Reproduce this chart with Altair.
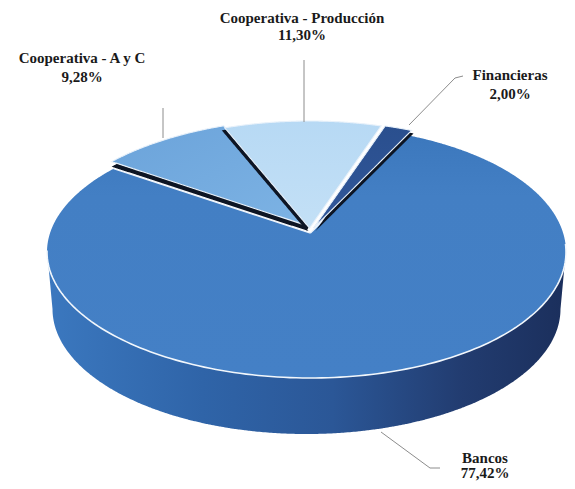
import numpy as np
import pandas as pd
import altair as alt

# ---- values
SLICES = ["Cooperativa - A y C", "Cooperativa - Producción", "Financieras", "Bancos"]
SHARES = [9.28, 11.30, 2.00, 77.42]
LABELS = ["9,28%", "11,30%", "2,00%", "77,42%"]
START_DEG = -55.4          # where the first slice starts, clockwise from the far side

# ---- 3D-look geometry of the disc, in picture units
CX, CY, RX, RY = 306.5, 250.0, 259.5, 126.0
PERSP = 0.15               # the centre of the disc appears this far above the ellipse centre
SKEW = 4.0                 # the view is slightly off-axis: the middle of the disc sits further right
DEPTH_CY, DEPTH_RX, DEPTH_RY = 309.0, 254.0, 125.0
W, H = 559, 473
XS = alt.Scale(domain=[8, 8 + W], nice=False, zero=False)
YS = alt.Scale(domain=[8 + H, 8], nice=False, zero=False)


def project(theta_deg, r=1.0):
    t = np.radians(theta_deg)
    X, Y = r * np.sin(t), r * np.cos(t)
    den = 1 + PERSP * Y
    u = X * np.sqrt(1 - PERSP ** 2) / den
    return CX + RX * u + SKEW * (1 - u ** 2), CY - RY * (Y + PERSP) / den


def wedge(a0, a1, dx=0.0, dy=0.0):
    th = np.linspace(a0, a1, max(4, int(abs(a1 - a0) * 2)))
    xs, ys = project(th)
    ax, ay = project(0.0, 0.0)
    return np.r_[ax, xs] + dx, np.r_[ay, ys] + dy


def to_area(px, py, n=260):
    """Vertically convex polygon -> top/bottom table for an area mark."""
    xs = np.unique(np.r_[np.linspace(px.min(), px.max(), n), px])
    rows = []
    x0, y0, x1, y1 = px, py, np.roll(px, -1), np.roll(py, -1)
    for x in xs:
        hit = []
        for a, b, c, d in zip(x0, y0, x1, y1):
            if min(a, c) <= x <= max(a, c):
                if a == c:
                    hit += [b, d]
                else:
                    hit.append(b + (d - b) * (x - a) / (c - a))
        rows.append((round(float(x), 2), round(min(hit), 2), round(max(hit), 2)))
    return pd.DataFrame(rows, columns=["x", "y", "y2"])


def area(px, py, fill, **kw):
    return alt.Chart(to_area(px, py)).mark_area(color=fill, interpolate="linear", **kw).encode(
        x=alt.X("x:Q", scale=XS, axis=None),
        y=alt.Y("y:Q", scale=YS, axis=None),
        y2="y2:Q",
    )


def polyline(px, py, color, width):
    df = pd.DataFrame({"x": px, "y": py, "i": np.arange(len(px))})
    return alt.Chart(df).mark_line(color=color, strokeWidth=width).encode(
        x=alt.X("x:Q", scale=XS, axis=None),
        y=alt.Y("y:Q", scale=YS, axis=None),
        order="i:Q",
    )


def grad(stops, x2=1, y2=0):
    return alt.Gradient(
        gradient="linear", x1=0, y1=0, x2=x2, y2=y2,
        stops=[alt.GradientStop(color=c, offset=o) for o, c in stops],
    )


# slice limits come from the shares
deg = np.array(SHARES) * 3.6
edges = START_DEG + np.r_[0, np.cumsum(deg)]

layers = []

# side wall of the disc
tt = np.linspace(90, 270, 160)
sx = CX + RX * np.sin(np.radians(tt))
sy = CY - RY * np.cos(np.radians(tt))
bx = CX + DEPTH_RX * np.sin(np.radians(tt[::-1]))
by = DEPTH_CY - DEPTH_RY * np.cos(np.radians(tt[::-1]))
layers.append(area(np.r_[sx, bx], np.r_[sy, by],
                   grad([(0, "#3b78bf"), (0.3, "#2f64a8"), (0.55, "#2b5797"),
                         (0.8, "#223c70"), (1, "#1b2f5c")])))

# large slice: top face
bp = wedge(edges[3], edges[4], 0, 2)
layers.append(area(bp[0], bp[1], grad([(0, "#3c78bd"), (0.25, "#437fc4"), (1, "#4480c6")], 0, 1)))

# rim and radial edges of the large slice
fx, fy = project(np.linspace(95, 262, 140))
layers.append(polyline(fx, fy + 2, "#f2f7fc", 1.6))
for e in (edges[3], edges[4]):
    rx_, ry_ = project(np.array([e]))
    ax_, ay_ = project(0.0, 0.0)
    layers.append(polyline(np.r_[ax_, rx_], np.r_[ay_ + 2, ry_ + 2], "#eef4fb", 1.3))

# exploded slices: dark wall, then face
faces = [
    (0, (-2.0, -5.0), (0.0, 5.0), grad([(0, "#6ba3da"), (1, "#7db3e4")], 1, 1)),
    (1, (-1.0, -3.0), (-3.0, 2.5), grad([(0, "#b7d9f4"), (1, "#c3e0f6")], 0, 1)),
    (2, (3.0, -3.0), (2.0, 3.0), grad([(0, "#2a4f8e"), (1, "#31579a")], 0, 1)),
]
for i, (dx, dy), (wx, wy), fill in faces:
    wp = wedge(edges[i], edges[i + 1], dx + wx, dy + wy)
    layers.append(area(wp[0], wp[1], "#0d1524"))
    fp = wedge(edges[i], edges[i + 1], dx, dy)
    layers.append(area(fp[0], fp[1], fill, stroke="#e8f1fa", strokeWidth=1.1))

# leader lines
LEADERS = [
    ([163, 163], [108, 138]),
    ([304, 304], [60, 122]),
    ([409, 455, 463], [125, 78, 76]),
    ([381, 430, 440], [432, 468, 468]),
]
for lx, ly in LEADERS:
    layers.append(polyline(np.array(lx, float), np.array(ly, float), "#8c8c8c", 1))

# labels
LABEL_X = [82, 302, 510, 485]
LABEL_Y = [[58, 77], [18, 35], [75, 94], [458, 473]]
rows = []
for s, l, x, (y1, y2) in zip(SLICES, LABELS, LABEL_X, LABEL_Y):
    rows += [{"x": x, "y": y1, "t": s}, {"x": x, "y": y2, "t": l}]
layers.append(
    alt.Chart(pd.DataFrame(rows))
    .mark_text(font="Liberation Serif", fontWeight="bold", fontSize=15, color="#1a1a1a",
               align="center", baseline="middle")
    .encode(x=alt.X("x:Q", scale=XS, axis=None), y=alt.Y("y:Q", scale=YS, axis=None), text="t:N")
)

chart = (
    alt.layer(*layers)
    .properties(width=W, height=H, padding=0, background="white",
                autosize=alt.AutoSizeParams(type="none"))
    .configure_view(stroke=None)
)
chart.save("out.html", embed_options={"renderer": "svg", "actions": False})
